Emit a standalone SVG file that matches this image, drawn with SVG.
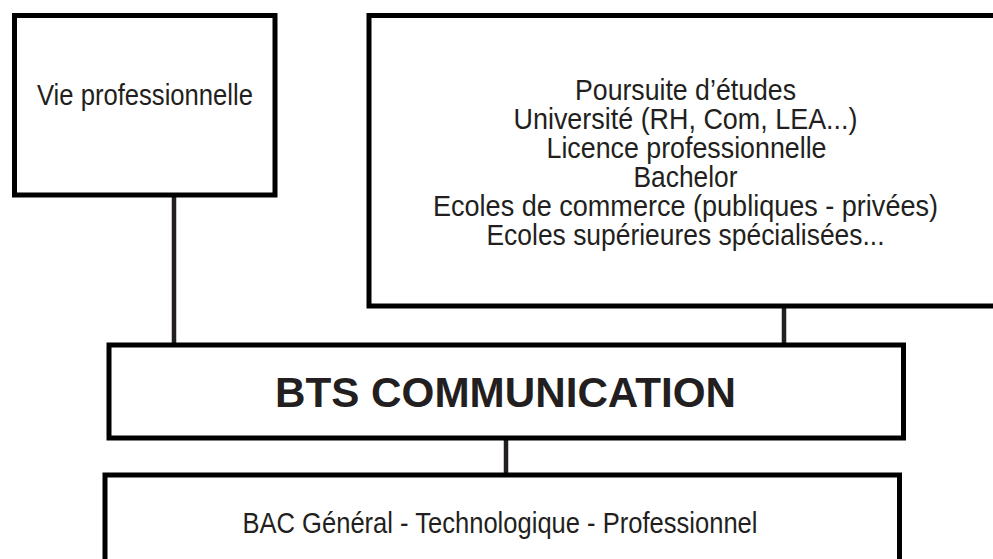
<svg xmlns="http://www.w3.org/2000/svg" width="993" height="559" viewBox="0 0 993 559">
<style>
.box{fill:#fff;stroke:#000;stroke-width:5}
.conn{stroke:#231f20;stroke-width:4.5;fill:none}
.t{font-family:"Liberation Sans",Arial,sans-serif;fill:#231f20;text-anchor:middle}
.n{font-size:29px}
.b{font-size:42px;font-weight:bold}
</style>
<rect width="993" height="559" fill="#fff"/>
<g id="connectors">
<line class="conn" x1="174" y1="196" x2="174" y2="344"/>
<line class="conn" x1="784" y1="307" x2="784" y2="344"/>
<line class="conn" x1="506" y1="439" x2="506" y2="474"/>
</g>
<g id="node-vie">
<rect class="box" x="14.5" y="15.5" width="260.5" height="179.5"/>
<text class="t n" x="145" y="105" textLength="216" lengthAdjust="spacingAndGlyphs">Vie professionnelle</text>
</g>
<g id="node-poursuite">
<rect class="box" x="369" y="15.5" width="640" height="290.5"/>
<text class="t n" x="685.5" y="100" textLength="221" lengthAdjust="spacingAndGlyphs">Poursuite d’études</text>
<text class="t n" x="685.5" y="129" textLength="344" lengthAdjust="spacingAndGlyphs">Université (RH, Com, LEA...)</text>
<text class="t n" x="686.5" y="158" textLength="280" lengthAdjust="spacingAndGlyphs">Licence professionnelle</text>
<text class="t n" x="685.5" y="187" textLength="104" lengthAdjust="spacingAndGlyphs">Bachelor</text>
<text class="t n" x="685.5" y="216" textLength="505" lengthAdjust="spacingAndGlyphs">Ecoles de commerce (publiques - privées)</text>
<text class="t n" x="685.5" y="245" textLength="398" lengthAdjust="spacingAndGlyphs">Ecoles supérieures spécialisées...</text>
</g>
<g id="node-bts">
<rect class="box" x="109" y="345" width="794.5" height="93"/>
<text class="t b" x="505.5" y="407" textLength="461" lengthAdjust="spacingAndGlyphs">BTS COMMUNICATION</text>
</g>
<g id="node-bac">
<rect class="box" x="105" y="475" width="794.5" height="120"/>
<text class="t n" x="500" y="533" textLength="515" lengthAdjust="spacingAndGlyphs">BAC Général - Technologique - Professionnel</text>
</g>
</svg>
